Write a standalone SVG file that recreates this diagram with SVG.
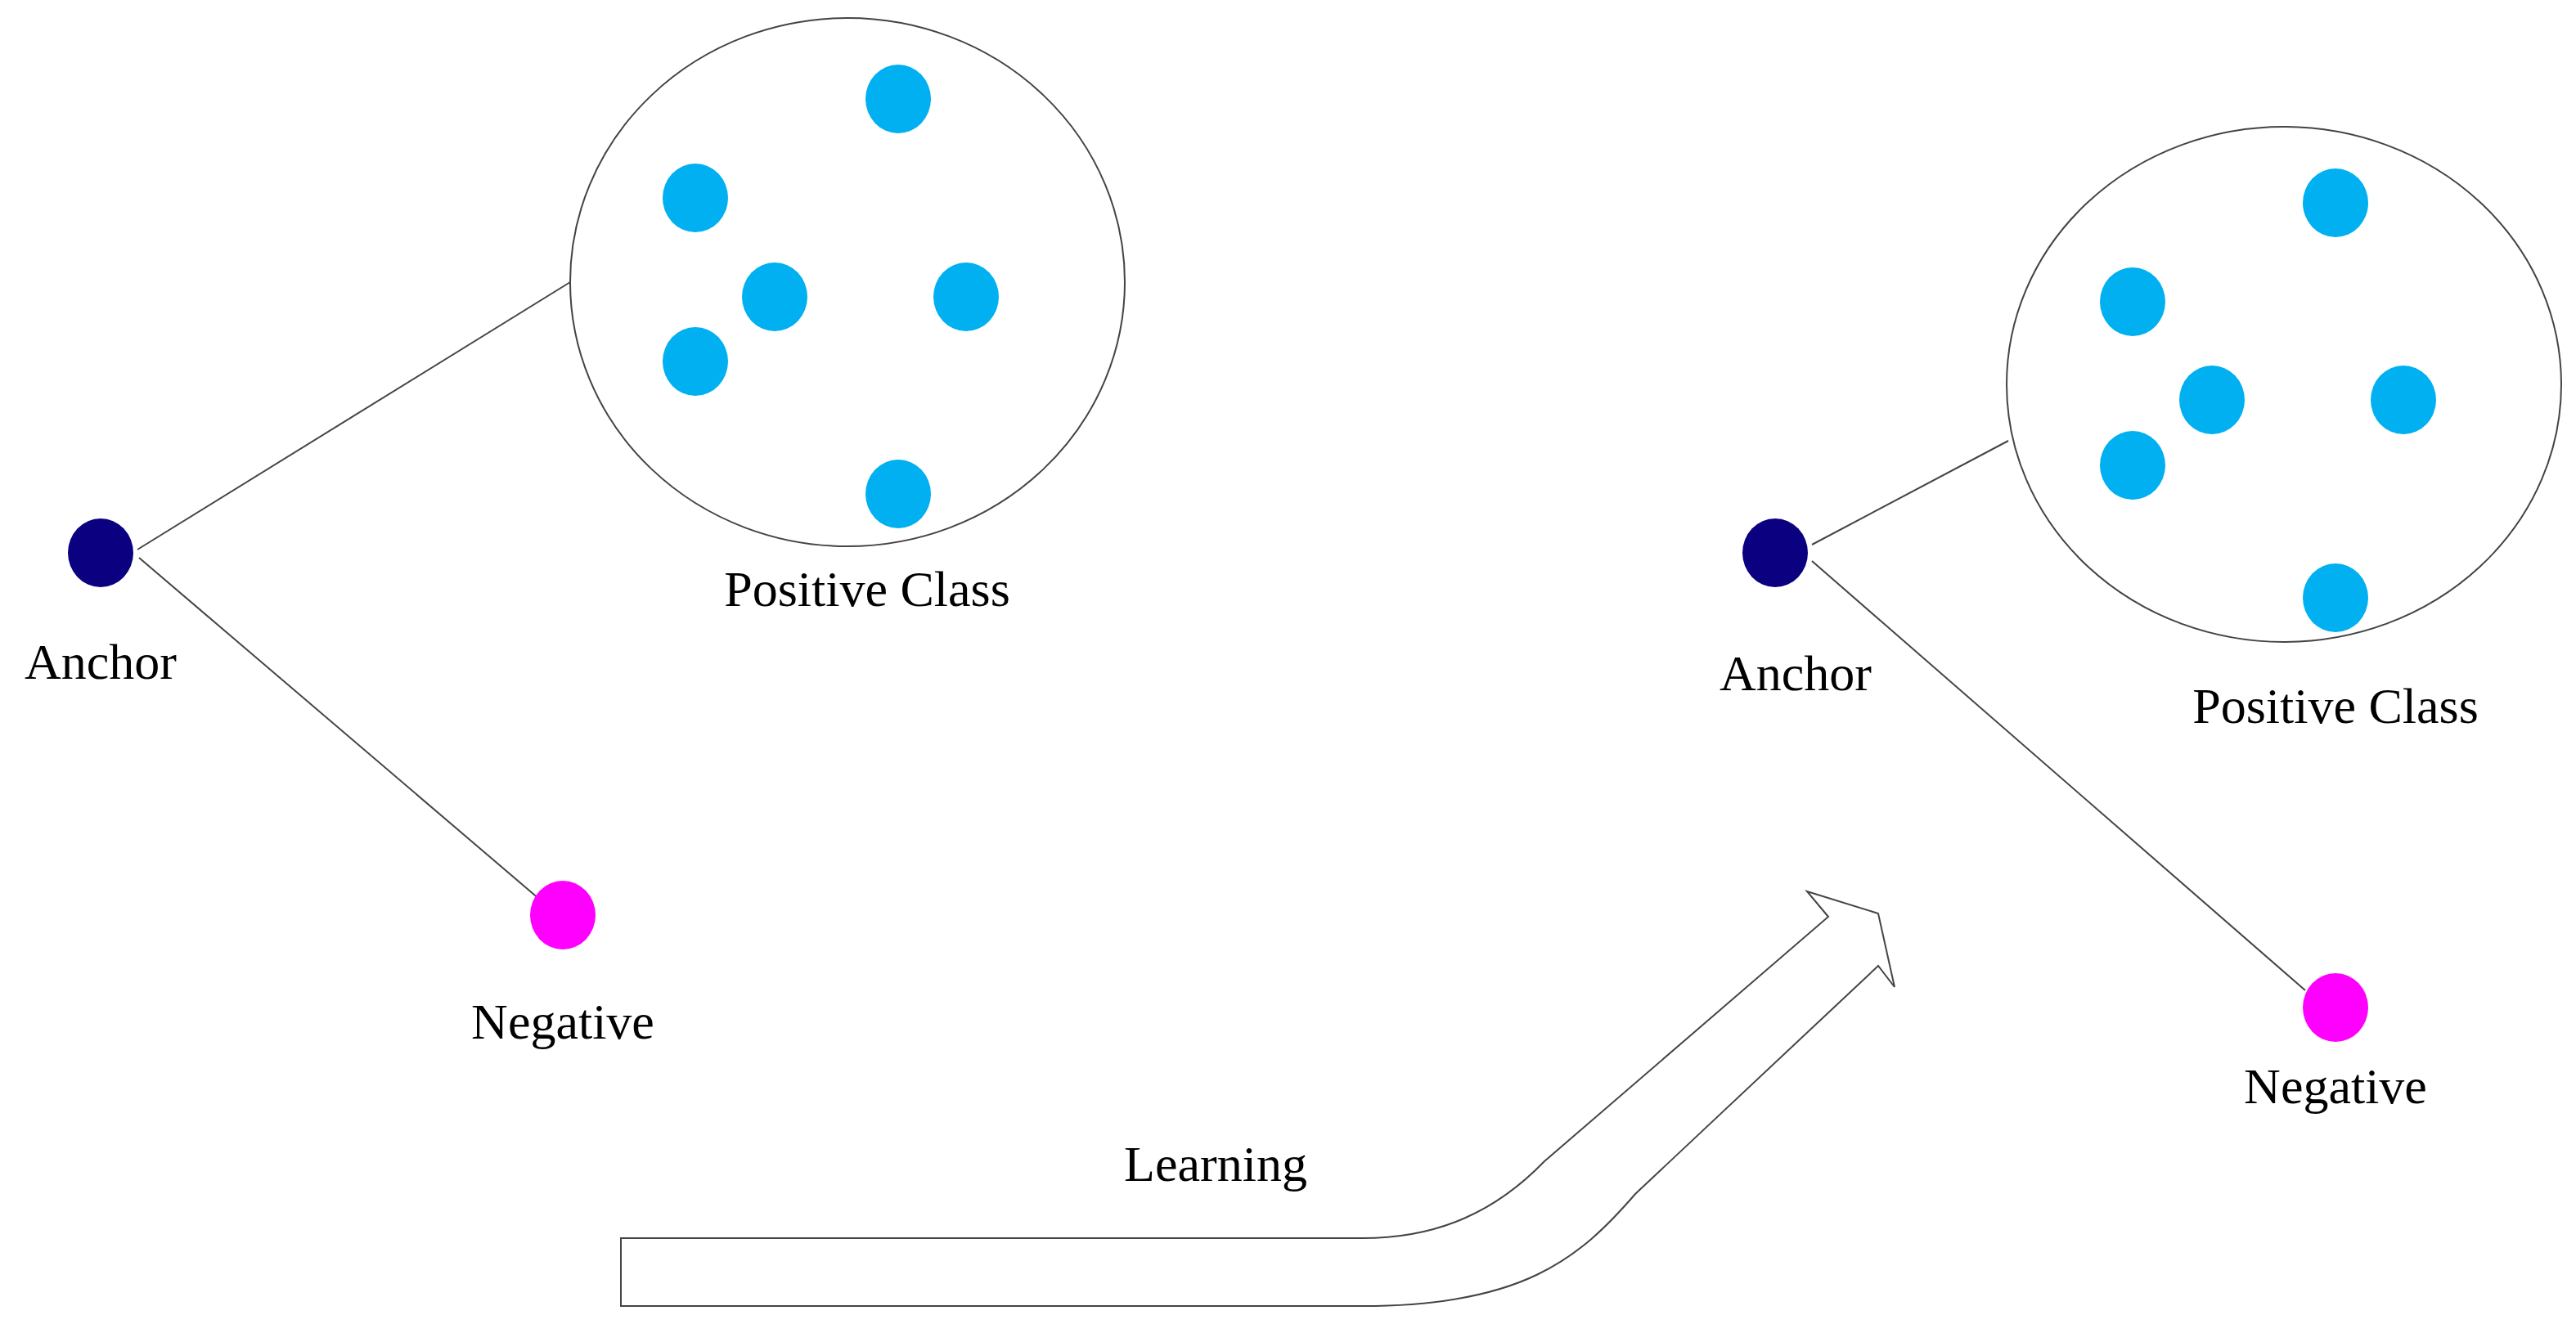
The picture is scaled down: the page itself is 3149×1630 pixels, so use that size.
<svg xmlns="http://www.w3.org/2000/svg" width="3149" height="1630" viewBox="0 0 3149 1630">
<style>
.cls{fill:#fff;stroke:#444;stroke-width:2}
.pos{fill:#00b0f0}
.anc{fill:#0b0080}
.neg{fill:#ff00ff}
.ln{stroke:#444;stroke-width:2;fill:none}
text{font-family:"Liberation Serif",serif;font-size:62px;fill:#000;text-anchor:middle}
</style>
<rect width="3149" height="1630" fill="#fff"/>
<g id="connectors">
<line class="ln" x1="168" y1="672" x2="697" y2="345"/>
<line class="ln" x1="170" y1="682" x2="660" y2="1100"/>
<line class="ln" x1="2215" y1="666" x2="2455" y2="539"/>
<line class="ln" x1="2215" y1="686" x2="2818" y2="1211"/>
</g>
<g id="left-positive-class">
<ellipse class="cls" cx="1036" cy="345" rx="339" ry="323"/>
<ellipse class="pos" cx="1098" cy="121" rx="40" ry="42"/>
<ellipse class="pos" cx="850" cy="242" rx="40" ry="42"/>
<ellipse class="pos" cx="947" cy="363" rx="40" ry="42"/>
<ellipse class="pos" cx="1181" cy="363" rx="40" ry="42"/>
<ellipse class="pos" cx="850" cy="442" rx="40" ry="42"/>
<ellipse class="pos" cx="1098" cy="604" rx="40" ry="42"/>
<text x="1060" y="741">Positive Class</text>
</g>
<g id="left-anchor">
<ellipse class="anc" cx="123" cy="676" rx="40" ry="42"/>
<text x="123" y="830">Anchor</text>
</g>
<g id="left-negative">
<ellipse class="neg" cx="688" cy="1119" rx="40" ry="42"/>
<text x="688" y="1270">Negative</text>
</g>
<g id="right-positive-class">
<ellipse class="cls" cx="2792" cy="470" rx="339" ry="315"/>
<ellipse class="pos" cx="2855" cy="248" rx="40" ry="42"/>
<ellipse class="pos" cx="2607" cy="369" rx="40" ry="42"/>
<ellipse class="pos" cx="2704" cy="489" rx="40" ry="42"/>
<ellipse class="pos" cx="2938" cy="489" rx="40" ry="42"/>
<ellipse class="pos" cx="2607" cy="569" rx="40" ry="42"/>
<ellipse class="pos" cx="2855" cy="731" rx="40" ry="42"/>
<text x="2855" y="884">Positive Class</text>
</g>
<g id="right-anchor">
<ellipse class="anc" cx="2170" cy="676" rx="40" ry="42"/>
<text x="2195" y="844">Anchor</text>
</g>
<g id="right-negative">
<ellipse class="neg" cx="2855" cy="1232" rx="40" ry="42"/>
<text x="2855" y="1349">Negative</text>
</g>
<g id="learning-arrow">
<path class="cls" d="M759,1514 L1666,1514 C1760,1514 1830,1480 1888,1420 L2235,1121 L2209,1090 L2296,1117 L2316,1207 L2296,1181 L1999,1460 C1930,1540 1860,1597 1666,1597 L759,1597 Z"/>
<text x="1486" y="1444">Learning</text>
</g>
</svg>
